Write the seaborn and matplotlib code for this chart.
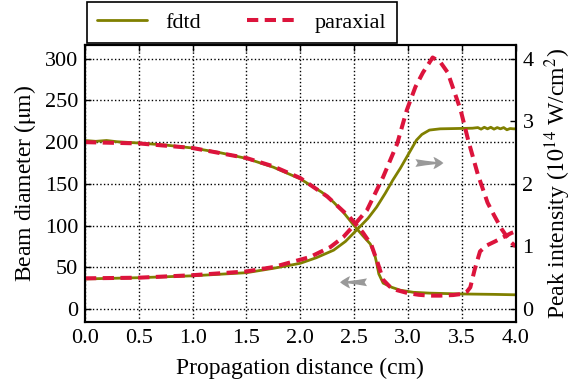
import numpy as np
import pandas as pd
import matplotlib
matplotlib.use('Agg')
import matplotlib.pyplot as plt
import seaborn as sns

# --- data (x in cm) ---
# beam diameter (um), left axis
fdtd_diam_x = [0.0, 0.1, 0.2, 0.3, 0.5, 0.75, 1.0, 1.25, 1.5, 1.75, 2.0, 2.2, 2.31, 2.4,
               2.5, 2.58, 2.65, 2.69, 2.71, 2.73, 2.77, 2.85, 2.93, 3.05, 3.2, 3.5, 3.8, 4.0]
fdtd_diam_y = [202, 201, 202, 200.5, 199, 196.5, 193, 187.5, 180.5, 170, 156, 140, 128, 116,
               100, 88, 78, 66, 55, 42, 31, 26, 22.5, 20, 19, 18, 17.5, 17]

par_diam_x = [0.0, 0.5, 1.0, 1.5, 1.75, 2.0, 2.25, 2.46, 2.58, 2.66, 2.72, 2.77, 2.83, 2.9,
              3.0, 3.1, 3.2, 3.3, 3.42, 3.5, 3.55, 3.58, 3.62, 3.67, 3.73, 3.81, 3.9, 3.96, 4.0]
par_diam_y = [200, 198.5, 193, 181, 171, 157, 135, 110, 92, 77, 55, 35, 27, 22.5,
              19, 17, 16, 16, 16.7, 18, 21, 26, 47, 69, 76, 81, 87, 91, 93]

# peak intensity (1e14 W/cm^2), right axis
fdtd_int_x = [0.0, 0.5, 1.0, 1.5, 1.75, 2.0, 2.15, 2.31, 2.42, 2.54, 2.63, 2.71, 2.79, 2.86,
              2.93, 2.99, 3.04, 3.08, 3.13, 3.2, 3.3, 3.45, 3.6, 3.65, 3.68, 3.71, 3.74,
              3.77, 3.8, 3.83, 3.86, 3.89, 3.92, 3.95, 3.98, 4.0]
fdtd_int_y = [0.48, 0.50, 0.53, 0.58, 0.65, 0.73, 0.82, 0.94, 1.08, 1.29, 1.45, 1.63, 1.85, 2.06,
              2.25, 2.43, 2.58, 2.70, 2.79, 2.86, 2.88, 2.885, 2.89, 2.90, 2.875, 2.905, 2.88,
              2.905, 2.875, 2.90, 2.88, 2.90, 2.865, 2.885, 2.88, 2.88]

par_int_x = [0.0, 0.5, 1.0, 1.5, 1.75, 2.09, 2.28, 2.4, 2.5, 2.62, 2.77, 2.9, 2.99, 3.07,
             3.14, 3.23, 3.3, 3.37, 3.49, 3.56, 3.65, 3.74, 3.8, 3.87, 3.95, 4.0]
par_int_y = [0.49, 0.50, 0.54, 0.60, 0.67, 0.83, 0.99, 1.15, 1.34, 1.58, 2.11, 2.64, 3.18, 3.55,
             3.78, 4.02, 3.95, 3.78, 3.18, 2.70, 2.15, 1.70, 1.50, 1.28, 1.08, 1.0]

fdtd_color = '#808000'
par_color = '#DC143C'

sns.set_style('white')
plt.rcParams['font.family'] = ['Liberation Serif', 'STIXGeneral']
plt.rcParams['mathtext.fontset'] = 'stix'
for k in ('text.color', 'axes.labelcolor', 'xtick.color', 'ytick.color', 'axes.edgecolor'):
    plt.rcParams[k] = 'black'

fig = plt.figure(figsize=(5.73, 3.9), dpi=100)
ax = fig.add_axes([0.1483, 0.1744, 0.7514, 0.7102])
ax2 = ax.twinx()

sns.lineplot(x=fdtd_diam_x, y=fdtd_diam_y, ax=ax, color=fdtd_color, lw=2.0, label='fdtd')
sns.lineplot(x=par_diam_x, y=par_diam_y, ax=ax, color=par_color, lw=2.9, label='paraxial')
ax.lines[-1].set_dashes((2.8, 1.6))
sns.lineplot(x=fdtd_int_x, y=fdtd_int_y, ax=ax2, color=fdtd_color, lw=2.0, legend=False)
sns.lineplot(x=par_int_x, y=par_int_y, ax=ax2, color=par_color, lw=2.9, legend=False)
ax2.lines[-1].set_dashes((2.8, 1.6))

ax.set_xlim(0, 4)
ax.set_ylim(-15.6, 316.5)
ax2.set_ylim(-15.6 / 75, 316.5 / 75)
ax.set_xticks(np.arange(0, 4.01, 0.5))
ax.set_yticks(np.arange(0, 301, 50))
ax2.set_yticks([0, 1, 2, 3, 4])
ax.set_xticklabels([f'{v:.1f}' for v in np.arange(0, 4.01, 0.5)])

ax.grid(True, color='black', linestyle=':', linewidth=1.0)
ax.tick_params(direction='in', top=True, length=4, width=1, labelsize=16, pad=5)
ax2.tick_params(direction='in', length=4, width=1, labelsize=16, pad=5)
for a in (ax, ax2):
    for s in a.spines.values():
        s.set_color('black')
        s.set_linewidth(1.5)

ax.set_xlabel('Propagation distance (cm)', fontsize=17, labelpad=7)
ax.set_ylabel(r'Beam diameter ($\mathrm{\mu}$m)', fontsize=17, labelpad=5)
ax2.set_ylabel(r'Peak intensity ($\mathrm{10^{14}}$ W/cm$\mathrm{^2}$)', fontsize=17, labelpad=6)

# direction arrows
arrow_kw = dict(arrowstyle='fancy,head_length=0.45,head_width=0.55,tail_width=0.35',
                mutation_scale=16, color='#999999', lw=0, shrinkA=0, shrinkB=0)
ax.annotate('', xy=(3.33, 175), xytext=(3.07, 175), arrowprops=arrow_kw)
ax.annotate('', xy=(2.37, 32), xytext=(2.62, 32), arrowprops=arrow_kw)

leg = ax.legend(loc='lower left', bbox_to_anchor=(0.0, 1.0), ncol=2, frameon=True,
                fancybox=False, edgecolor='black', fontsize=16, handlelength=2.25,
                handletextpad=0.8, columnspacing=2.1, borderaxespad=0.1, borderpad=0.45)
leg.get_frame().set_linewidth(1.2)
leg.get_frame().set_alpha(1)

fig.savefig('out.png', dpi=100)
